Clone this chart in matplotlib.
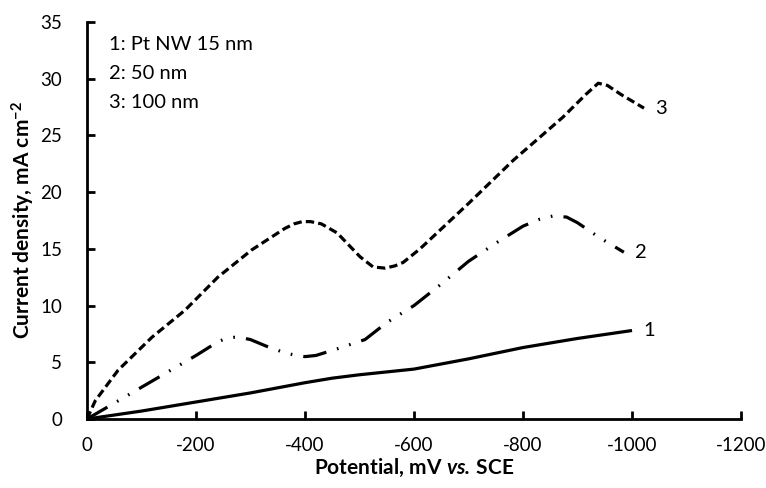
import matplotlib
matplotlib.use("Agg")
import matplotlib.pyplot as plt

plt.rcParams['font.family'] = ['Lato', 'DejaVu Sans']
plt.rcParams['mathtext.fontset'] = 'custom'
plt.rcParams['mathtext.rm'] = 'Lato'
plt.rcParams['mathtext.bf'] = 'Lato:bold'
plt.rcParams['mathtext.it'] = 'Lato:italic'
plt.rcParams['mathtext.bfit'] = 'Lato:bold:italic'
plt.rcParams['lines.scale_dashes'] = False

# Curve 1: Pt NW 15 nm (solid)
x1 = [0, -50, -100, -150, -200, -250, -300, -350, -400, -450, -500, -550, -600,
      -650, -700, -750, -800, -850, -900, -950, -1000]
y1 = [0, 0.35, 0.7, 1.1, 1.5, 1.9, 2.3, 2.75, 3.2, 3.6, 3.9, 4.15, 4.4,
      4.85, 5.3, 5.8, 6.3, 6.7, 7.1, 7.45, 7.8]

# Curve 2: 50 nm (dash-dot-dot)
x2 = [0, -50, -100, -150, -200, -240, -255, -270, -285, -300, -330, -365, -385, -400,
      -420, -460, -510, -550, -600, -650, -700, -750, -800, -830, -855, -880, -900,
      -940, -985]
y2 = [0, 1.4, 2.8, 4.2, 5.6, 6.8, 7.1, 7.2, 7.15, 7.0, 6.4, 5.8, 5.6, 5.5,
      5.6, 6.2, 7.0, 8.5, 10.0, 11.9, 13.9, 15.5, 17.0, 17.6, 17.9, 17.8, 17.3,
      16.0, 14.7]

# Curve 3: 100 nm (dashed)
x3 = [0, -15, -57, -119, -180, -240, -302, -363, -380, -395, -410, -430, -459,
      -501, -525, -547, -565, -580, -611, -660, -700, -782, -873, -915, -938,
      -955, -980, -1022]
y3 = [0, 1.6, 4.3, 7.2, 9.6, 12.5, 14.9, 16.8, 17.2, 17.4, 17.4, 17.2, 16.4,
      14.3, 13.4, 13.3, 13.5, 13.8, 15.0, 17.2, 19.0, 22.8, 26.6, 28.6, 29.6,
      29.4, 28.6, 27.4]

legend_lines = ["1: Pt NW 15 nm", "2: 50 nm", "3: 100 nm"]
curve_labels = ["1", "2", "3"]

xticks = [0, -200, -400, -600, -800, -1000, -1200]
yticks = [0, 5, 10, 15, 20, 25, 30, 35]

fig = plt.figure(figsize=(7.66, 4.88), dpi=100)
ax = fig.add_axes([0.1136, 0.1414, 0.8538, 0.8136])

lw = 2.3
ax.plot(x1, y1, color='black', lw=lw, solid_capstyle='butt', solid_joinstyle='round')
ax.plot(x2, y2, color='black', lw=lw, dashes=(17, 8, 1.2, 8, 1.2, 8))
ax.plot(x3, y3, color='black', lw=lw, dashes=(6, 3))

ax.set_xlim(0, -1200)
ax.set_ylim(0, 35)
ax.set_xticks(xticks)
ax.set_yticks(yticks)
ax.set_xticklabels([str(v) for v in xticks])
ax.set_yticklabels([str(v) for v in yticks])

for s in ['top', 'right']:
    ax.spines[s].set_visible(False)
for s in ['left', 'bottom']:
    ax.spines[s].set_linewidth(2)
ax.tick_params(axis='both', direction='in', length=6, width=2, labelsize=13.5,
               colors='black')
ax.tick_params(axis='x', pad=13)
ax.tick_params(axis='y', pad=18)

ax.set_xlabel(r"$\mathbf{Potential{,}\ mV\ }\mathbfit{vs.}\mathbf{\,SCE}$", fontsize=15, labelpad=2)
ax.set_ylabel(r"Current density, mA cm$^{\mathbf{-2}}$", fontsize=15, fontweight='bold', labelpad=2)

# curve end labels
ends = [(x1[-1], y1[-1]), (x2[-1], y2[-1]), (x3[-1], y3[-1])]
for lab, (xe, ye) in zip(curve_labels, ends):
    ax.annotate(lab, (xe, ye), xytext=(8, 0), textcoords='offset points',
                fontsize=14.5, va='center', ha='left')

# legend text
for i, t in enumerate(legend_lines):
    ax.text(0.033, 0.942 - i * 0.072, t, transform=ax.transAxes, fontsize=14.5,
            va='center', ha='left')

fig.savefig("out.png", dpi=100)
